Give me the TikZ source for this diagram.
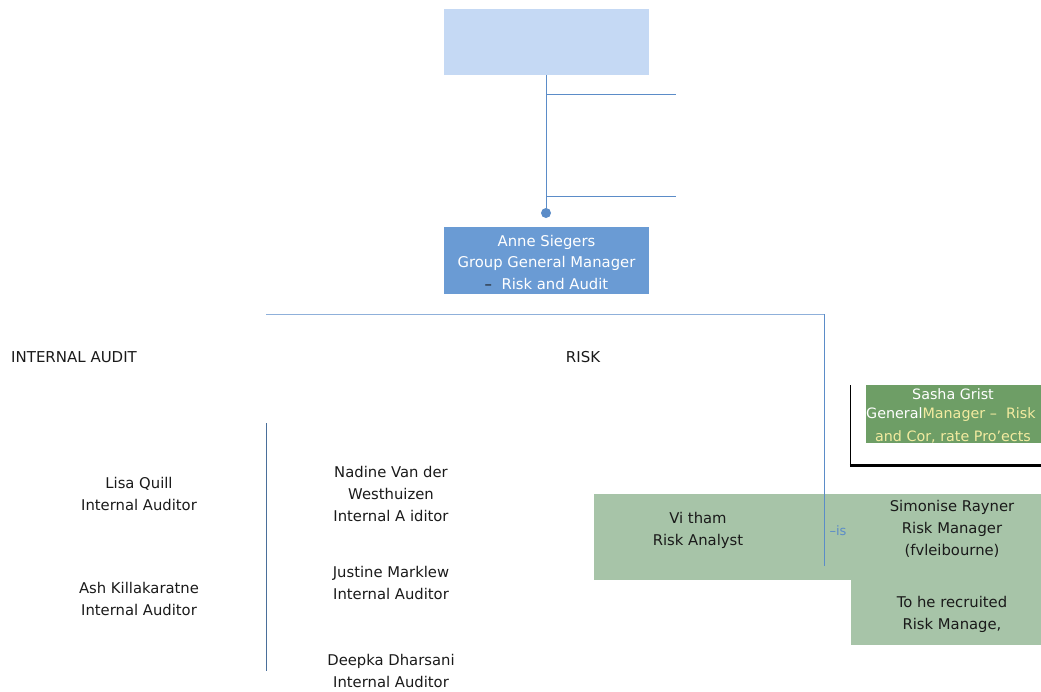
\documentclass[tikz,border=0pt]{standalone}
\usepackage{fontspec}
\setmainfont{DejaVu Sans}
\definecolor{topfill}{HTML}{C5D9F4}
\definecolor{mgrfill}{HTML}{6A9BD4}
\definecolor{linkblue}{HTML}{5B8CC8}
\definecolor{paleline}{HTML}{8FB0DA}
\definecolor{sashafill}{HTML}{6E9E66}
\definecolor{sashatext}{HTML}{F3EBA0}
\definecolor{riskfill}{HTML}{A7C4A8}
\definecolor{txt}{HTML}{1A1A1A}
\definecolor{vline}{HTML}{4A6F9A}
\tikzset{
  lbl/.style={font=\fontsize{14.8}{22}\selectfont, text=txt, align=center, inner sep=0pt},
  hdr/.style={font=\fontsize{15}{16}\selectfont, text=txt, inner sep=0pt},
  conn/.style={draw=linkblue, line width=1pt},
  thin/.style={draw=paleline, line width=1pt}
}
\begin{document}
\begin{tikzpicture}[x=1pt,y=-1pt]
\useasboundingbox (0,0) rectangle (1041,691);
% executive boxes
\fill[topfill] (444,9) rectangle (649,75);
\node[inner sep=0pt] (top) at (546.5,42) {};
\fill[mgrfill] (444,227) rectangle (649,294);
\node[lbl, text=white, font=\fontsize{14.8}{21.5}\selectfont] (anne) at (546.5,262)
  {Anne Siegers\\Group General Manager\\{\color{txt}–}\ \ Risk and Audit};
% reporting line with dot
\coordinate (t0) at (546,75);
\coordinate (dot) at (546,213);
\draw[conn] (t0) -- (dot);
\fill[linkblue] (dot) circle (5);
\coordinate (h1a) at (546,94);  \coordinate (h1b) at (676,94);
\coordinate (h2a) at (546,196); \coordinate (h2b) at (676,196);
\draw[conn] (h1a) -- (h1b);
\draw[conn] (h2a) -- (h2b);
% division line
\coordinate (d0) at (266,314);
\coordinate (d1) at (824,314);
\draw[thin] (d0) -- (d1);
% section headers
\node[hdr, anchor=west] (ia) at (11,357) {INTERNAL AUDIT};
\node[hdr] (risk) at (583,357) {RISK};
% Sasha box with frame
\fill[sashafill] (866,385) rectangle (1041,443);
\draw[black, line width=1.2pt] (850.5,385) -- (850.5,465);
\draw[black, line width=3pt] (849.9,465) -- (1041,465);
\begin{scope}
\clip (866,385) rectangle (1041,443);
\node[lbl, font=\fontsize{14.3}{21}\selectfont, text=white] (sasha) at (953,394) {Sasha Grist};
\node[lbl, font=\fontsize{14.3}{21}\selectfont, anchor=west] (sasha2) at (866,415)
  {{\color{white}General}{\color{sashatext}Manager –\ \ Risk}};
\node[lbl, font=\fontsize{14.3}{21}\selectfont, text=sashatext] (sasha3) at (953,437) {and\ Cor, rate\ Pro'ects};
\end{scope}
% risk team block
\fill[riskfill] (594,494) rectangle (851,580);
\fill[riskfill] (851,494) rectangle (1041,645);
\coordinate (r1) at (824,566);
\draw[conn] (d1) -- (r1);
\node[lbl, text=linkblue, font=\fontsize{13}{14}\selectfont] (is) at (838,531) {–is};
\node[lbl] (vi) at (698,530) {Vi tham\\Risk Analyst};
\node[lbl] (sim) at (952,529) {Simonise Rayner\\Risk Manager\\(fvleibourne)};
\node[lbl] (tbr) at (952,614) {To he recruited\\Risk Manage,};
% internal audit team
\coordinate (v0) at (266,423);
\coordinate (v1) at (266,671);
\draw[draw=vline, line width=1pt] (v0) -- (v1);
\node[lbl] (lisa) at (139,494) {Lisa Quill\\Internal Auditor};
\node[lbl] (ash) at (139,599) {Ash Killakaratne\\Internal Auditor};
\node[lbl] (nadine) at (391,494) {Nadine Van der\\Westhuizen\\Internal A iditor};
\node[lbl] (justine) at (391,583) {Justine Marklew\\Internal Auditor};
\node[lbl] (deepka) at (391,671) {Deepka Dharsani\\Internal Auditor};
\end{tikzpicture}
\end{document}
